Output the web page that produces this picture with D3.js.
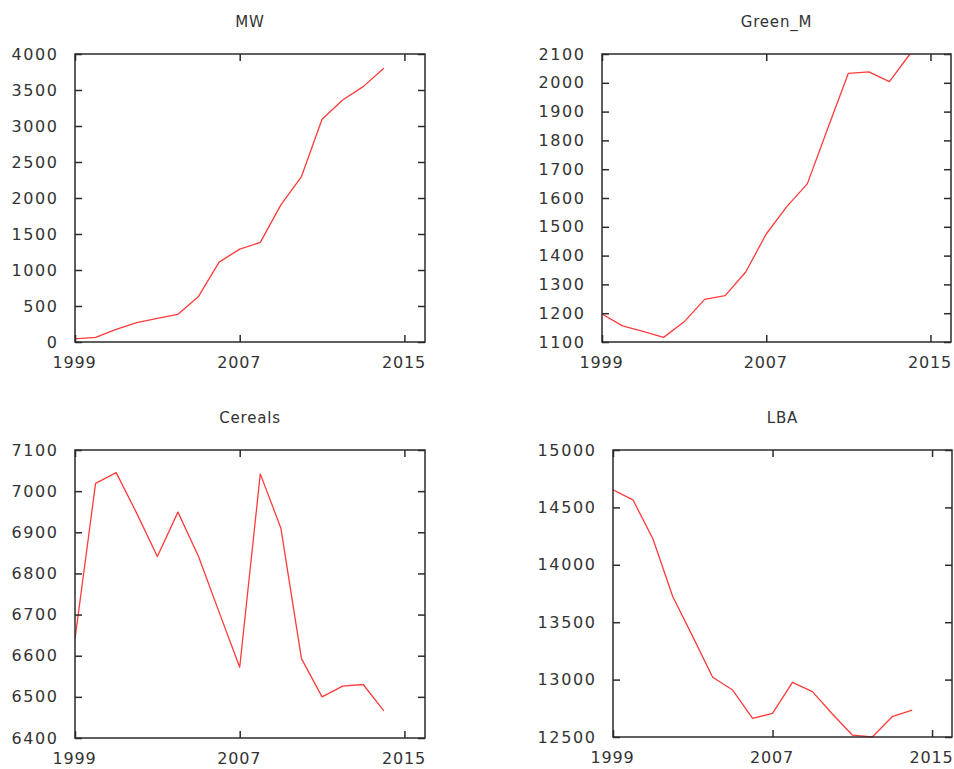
<!DOCTYPE html>
<html>
<head>
<meta charset="utf-8">
<script src="https://cdn.jsdelivr.net/npm/d3@7"></script>
<style>
  html, body { margin: 0; padding: 0; background: #fff; }
  svg { display: block; }
  text { font-family: "DejaVu Sans", Verdana, sans-serif; fill: #333; }
</style>
</head>
<body>
<svg id="chart" width="954" height="769"></svg>
<script>
const years = [1999, 2000, 2001, 2002, 2003, 2004, 2005, 2006, 2007, 2008, 2009, 2010, 2011, 2012, 2013, 2014];
const xTicks = [1999, 2007, 2015];

const mwValues = [42, 65, 176, 268, 329, 385, 633, 1110, 1290, 1383, 1905, 2298, 3093, 3362, 3547, 3801];
const greenValues = [1197, 1156, 1137, 1116, 1170, 1248, 1261, 1343, 1475, 1570, 1649, 1842, 2033, 2038, 2004, 2100];
const cerealsValues = [6641, 7019, 7045, 6946, 6841, 6949, 6841, 6706, 6572, 7042, 6910, 6593, 6500, 6526, 6530, 6466];
const lbaValues = [14653, 14566, 14227, 13721, 13374, 13020, 12909, 12663, 12706, 12976, 12895, 12700, 12517, 12500, 12677, 12735];

const titles = ["MW", "Green_M", "Cereals", "LBA"];
const mwTicks = [0, 500, 1000, 1500, 2000, 2500, 3000, 3500, 4000];
const greenTicks = [1100, 1200, 1300, 1400, 1500, 1600, 1700, 1800, 1900, 2000, 2100];
const cerealsTicks = [6400, 6500, 6600, 6700, 6800, 6900, 7000, 7100];
const lbaTicks = [12500, 13000, 13500, 14000, 14500, 15000];

const panels = [
  { title: titles[0], values: mwValues, yTicks: mwTicks, box: [75, 54, 425, 342] },
  { title: titles[1], values: greenValues, yTicks: greenTicks, box: [602, 54, 951, 342] },
  { title: titles[2], values: cerealsValues, yTicks: cerealsTicks, box: [75, 450, 425, 738] },
  { title: titles[3], values: lbaValues, yTicks: lbaTicks, box: [613, 450, 952, 737] }
];

const svg = d3.select("#chart");
const axisColor = "#2b2b2b";
const tickLen = 7;
const fmt = d3.format("d");

panels.forEach((p, i) => {
  const [x0, y0, x1, y1] = p.box;
  const yDom = d3.extent(p.yTicks);
  const x = d3.scaleLinear().domain([1999, 2016]).range([x0, x1]);
  const y = d3.scaleLinear().domain(yDom).range([y1, y0]);
  const g = svg.append("g");

  const clipId = "clip" + i;
  g.append("clipPath").attr("id", clipId)
    .append("rect").attr("x", x0).attr("y", y0 - 1).attr("width", x1 - x0).attr("height", y1 - y0 + 2);

  // data line
  const line = d3.line().x((d, j) => x(years[j])).y(d => y(d));
  g.append("path")
    .datum(p.values)
    .attr("clip-path", `url(#${clipId})`)
    .attr("fill", "none")
    .attr("stroke", "#ff3b3b")
    .attr("stroke-width", 1.3)
    .attr("stroke-linejoin", "round")
    .attr("d", line);

  // left axis (inward ticks) with labels
  const left = d3.axisLeft(y).tickValues(p.yTicks).tickSizeInner(-tickLen).tickSizeOuter(0).tickPadding(16.5).tickFormat(fmt);
  const gl = g.append("g").attr("transform", `translate(${x0},0)`).call(left);
  // right axis inward ticks
  const right = d3.axisRight(y).tickValues(p.yTicks).tickSizeInner(-tickLen).tickSizeOuter(0).tickFormat("");
  const gr = g.append("g").attr("transform", `translate(${x1},0)`).call(right);
  // bottom axis inward ticks with labels
  const bottom = d3.axisBottom(x).tickValues(xTicks).tickSizeInner(-tickLen).tickSizeOuter(0).tickPadding(15).tickFormat(fmt);
  const gb = g.append("g").attr("transform", `translate(0,${y1})`).call(bottom);
  // top axis inward ticks
  const top = d3.axisTop(x).tickValues(xTicks).tickSizeInner(-tickLen).tickSizeOuter(0).tickFormat("");
  const gt = g.append("g").attr("transform", `translate(0,${y0})`).call(top);

  [gl, gr, gb, gt].forEach(a => {
    a.select(".domain").remove();
    a.selectAll("line").attr("stroke", axisColor).attr("stroke-width", 1.5);
    a.selectAll("text").attr("font-size", 16).attr("fill", "#333")
      .attr("letter-spacing", 1.6)
      .attr("font-family", "'DejaVu Sans', Verdana, sans-serif");
  });
  gb.selectAll("text").attr("letter-spacing", 0.8).attr("dx", -1);

  // frame
  g.append("rect")
    .attr("x", x0).attr("y", y0)
    .attr("width", x1 - x0).attr("height", y1 - y0)
    .attr("fill", "none").attr("stroke", axisColor).attr("stroke-width", 1.5);

  // title
  g.append("text")
    .attr("x", (x0 + x1) / 2)
    .attr("y", y0 - 27)
    .attr("text-anchor", "middle")
    .attr("font-size", 15)
    .attr("letter-spacing", 0.8)
    .text(p.title);
});
</script>
</body>
</html>
